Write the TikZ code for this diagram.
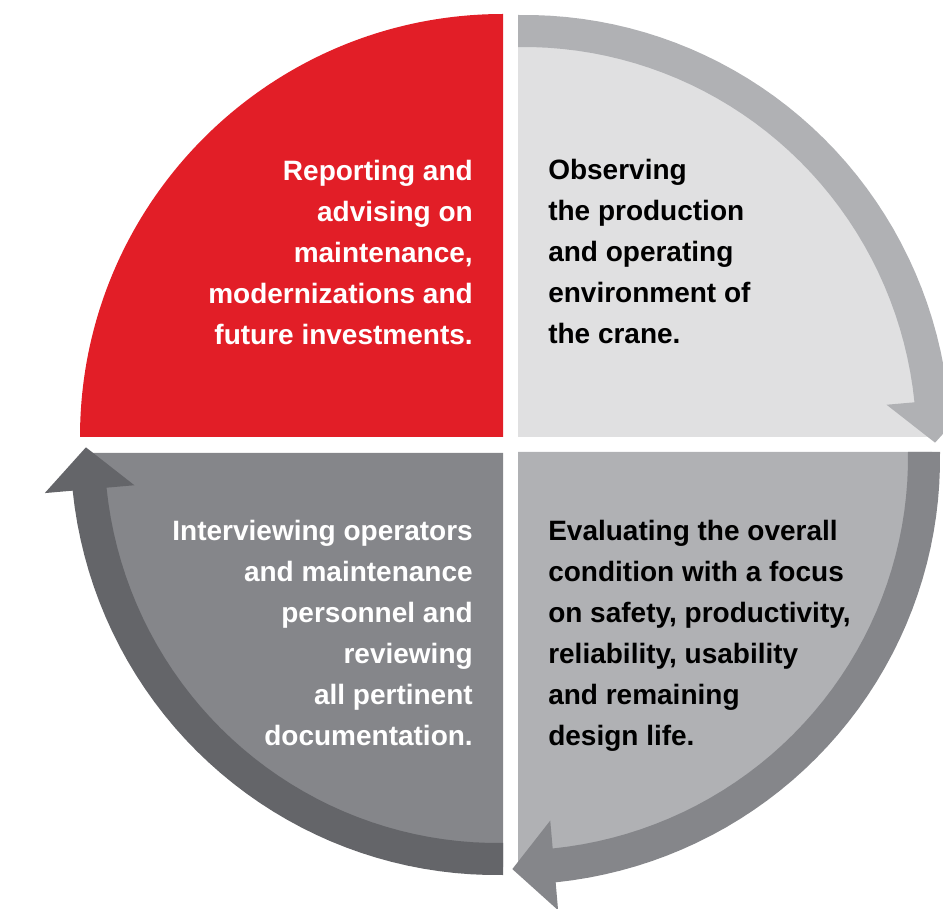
\documentclass[tikz,border=0pt]{standalone}
\usepackage{fontspec}
\setmainfont{Liberation Sans}
\usetikzlibrary{calc}

\definecolor{redQ}{RGB}{226,30,39}
\definecolor{greyA}{RGB}{224,224,225}
\definecolor{greyB}{RGB}{176,177,180}
\definecolor{greyC}{RGB}{133,134,138}
\definecolor{greyD}{RGB}{100,101,105}

\tikzset{
	txt/.style={font=\bfseries\fontsize{21}{30.75}\selectfont, inner sep=0pt},
	txtL/.style={txt, align=left, anchor=north west},
	txtR/.style={txt, align=right, anchor=north east}
}

\begin{document}
\begin{tikzpicture}[x=0.75pt,y=0.75pt]

\useasboundingbox (0,0) rectangle (943,908);

\fill[redQ] (503,471) -- (503,894) arc[start angle=90, end angle=180, radius=423] -- cycle;

\foreach \cx/\cy/\a/\b/\fillc/\bandc in {518/471/90/5/greyA/greyB, 518/456/0/-85/greyB/greyC, 503/455/270/185/greyC/greyD} {
	\begin{scope}[shift={(\cx,\cy)}]
		\fill[\fillc] (0,0) -- (\a:414) arc[start angle=\a, end angle=\a-90, radius=414] -- cycle;
		\fill[\bandc] plot[domain=\a:\b, samples=40] (\x:{422+(\a-\x)/85*10})
			-- (\b:460) -- ($(\b:415)+(\b-90:42)$) -- (\b:370)
			-- plot[domain=\b:\a, samples=40] (\x:{390+(\a-\x)/85*8}) -- cycle;
	\end{scope}
}

\node[txtR, text=white] (report) at (473,748) {Reporting and\\advising on\\maintenance,\\modernizations and\\future investments.};
\node[txtL] (observe) at (548,749) {Observing\\the production\\and operating\\environment of\\the crane.};
\node[txtL] (evaluate) at (548,388) {Evaluating the overall\\condition with a focus\\on safety, productivity,\\reliability, usability\\and remaining\\design life.};
\node[txtR, text=white] (interview) at (473,388) {Interviewing operators\\and maintenance\\personnel and\\reviewing\\all pertinent\\documentation.};

\end{tikzpicture}
\end{document}
